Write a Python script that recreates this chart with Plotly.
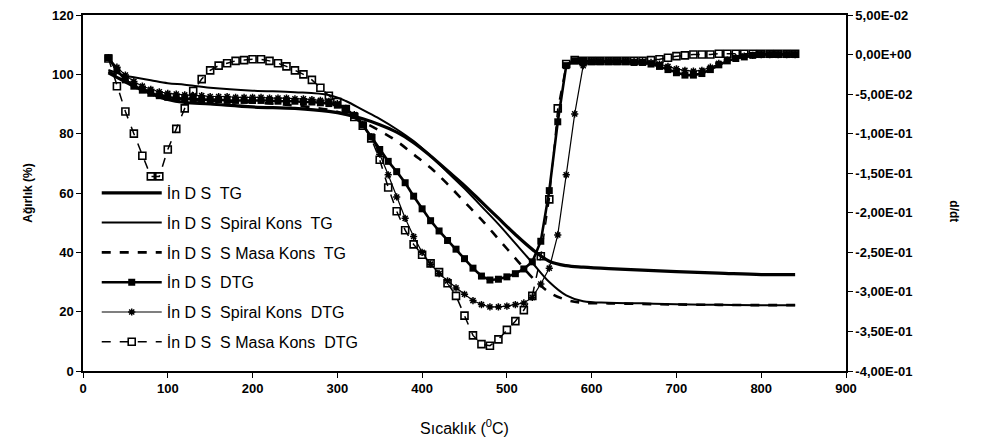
import plotly.graph_objects as go

# ---------------- data ----------------
dtg_temp = [30, 40, 50, 60, 70, 80, 90, 100, 110, 120,
            130, 140, 150, 160, 170, 180, 190, 200, 210, 220,
            230, 240, 250, 260, 270, 280, 290, 300, 310, 320,
            330, 340, 350, 360, 370, 380, 390, 400, 410, 420,
            430, 440, 450, 460, 470, 480, 490, 500, 510, 520,
            530, 540, 550, 560, 570, 580, 590, 600, 610, 620,
            630, 640, 650, 660, 670, 680, 690, 700, 710, 720,
            730, 740, 750, 760, 770, 780, 790, 800, 810, 820,
            830, 840]

dtg_inds = [-0.004, -0.020, -0.032, -0.040, -0.045, -0.049, -0.052, -0.054, -0.055, -0.056,
            -0.056, -0.057, -0.057, -0.057, -0.058, -0.058, -0.058, -0.058, -0.058, -0.058,
            -0.059, -0.059, -0.059, -0.060, -0.060, -0.061, -0.062, -0.064, -0.069, -0.077,
            -0.089, -0.104, -0.120, -0.135, -0.148, -0.162, -0.179, -0.195, -0.210, -0.223,
            -0.235, -0.246, -0.258, -0.270, -0.280, -0.285, -0.284, -0.281, -0.277, -0.271,
            -0.262, -0.236, -0.172, -0.085, -0.014, -0.008, -0.008, -0.009, -0.009, -0.009,
            -0.009, -0.009, -0.010, -0.010, -0.012, -0.015, -0.019, -0.023, -0.026, -0.026,
            -0.024, -0.019, -0.013, -0.008, -0.005, -0.003, -0.001, 0.000, 0.000, 0.000,
            0.000, 0.000]

dtg_spiral = [-0.004, -0.016, -0.026, -0.034, -0.040, -0.044, -0.047, -0.049, -0.050, -0.051,
              -0.052, -0.052, -0.053, -0.053, -0.053, -0.054, -0.054, -0.054, -0.054, -0.055,
              -0.055, -0.055, -0.056, -0.056, -0.057, -0.058, -0.059, -0.062, -0.068, -0.076,
              -0.088, -0.104, -0.126, -0.152, -0.180, -0.207, -0.230, -0.250, -0.265, -0.277,
              -0.286, -0.295, -0.303, -0.311, -0.316, -0.319, -0.319, -0.318, -0.316, -0.314,
              -0.307, -0.290, -0.270, -0.228, -0.152, -0.075, -0.014, -0.008, -0.008, -0.008,
              -0.008, -0.008, -0.009, -0.009, -0.010, -0.012, -0.015, -0.018, -0.020, -0.021,
              -0.020, -0.016, -0.011, -0.007, -0.004, -0.002, -0.001, 0.000, 0.000, 0.000,
              0.000, 0.000]

dtg_smasa = [-0.005, -0.040, -0.072, -0.100, -0.128, -0.154, -0.154, -0.120, -0.094, -0.068,
             -0.046, -0.031, -0.020, -0.014, -0.011, -0.008, -0.007, -0.006, -0.006, -0.008,
             -0.011, -0.015, -0.020, -0.025, -0.032, -0.042, -0.052, -0.060, -0.069, -0.079,
             -0.090, -0.106, -0.133, -0.168, -0.198, -0.222, -0.240, -0.253, -0.264, -0.275,
             -0.289, -0.305, -0.330, -0.355, -0.366, -0.368, -0.360, -0.348, -0.337, -0.323,
             -0.305, -0.255, -0.183, -0.068, -0.012, -0.007, -0.008, -0.008, -0.008, -0.008,
             -0.008, -0.008, -0.008, -0.008, -0.007, -0.006, -0.004, -0.002, -0.001, 0.000,
             0.000, 0.000, 0.001, 0.001, 0.001, 0.001, 0.001, 0.001, 0.001, 0.001,
             0.001, 0.001]

tg_temp = [30, 40, 50, 60, 80, 100, 120, 150, 200, 250,
           290, 310, 330, 350, 370, 390, 410, 430, 450, 470,
           490, 510, 530, 550, 570, 590, 620, 660, 700, 750,
           800, 840]

tg_inds = [100.5, 99.0, 97.5, 96.0, 93.5, 91.5, 90.5, 90.0, 89.0, 88.5,
           87.5, 86.5, 85.0, 83.0, 80.5, 77.0, 72.5, 67.5, 62.5, 57.0,
           51.5, 46.0, 41.0, 37.0, 35.5, 35.0, 34.5, 34.0, 33.5, 33.0,
           32.5, 32.5]

tg_spiral = [101.5, 100.5, 99.5, 99.0, 98.0, 97.0, 96.5, 95.5, 94.5, 94.0,
             93.0, 91.0, 88.0, 85.0, 81.5, 77.5, 72.5, 67.0, 61.5, 55.5,
             49.5, 43.0, 36.5, 30.0, 25.5, 23.5, 23.0, 22.8, 22.5, 22.3,
             22.2, 22.2]

tg_smasa = [101.0, 99.5, 98.0, 96.5, 94.0, 92.5, 91.5, 91.0, 90.5, 89.5,
            88.0, 86.5, 84.0, 81.0, 77.5, 73.0, 68.5, 63.0, 57.0, 51.0,
            44.5, 38.0, 31.5, 26.5, 24.0, 23.0, 22.8, 22.6, 22.4, 22.3,
            22.2, 22.2]

names = ["İn D S  TG", "İn D S  Spiral Kons  TG", "İn D S  S Masa Kons  TG",
         "İn D S  DTG", "İn D S  Spiral Kons  DTG", "İn D S  S Masa Kons  DTG"]

x_ticks = [0, 100, 200, 300, 400, 500, 600, 700, 800, 900]
y_ticks = [0, 20, 40, 60, 80, 100, 120]
y2_ticks = [-0.40, -0.35, -0.30, -0.25, -0.20, -0.15, -0.10, -0.05, 0.00, 0.05]
y2_labels = ["-4,00E-01", "-3,50E-01", "-3,00E-01", "-2,50E-01", "-2,00E-01",
             "-1,50E-01", "-1,00E-01", "-5,00E-02", "0,00E+00", "5,00E-02"]

# ---------------- figure ----------------
fig = go.Figure()
K = "black"

fig.add_trace(go.Scatter(x=tg_temp, y=tg_inds, name=names[0], mode="lines",
                         line=dict(color=K, width=3.2, shape="spline"), legendgroup="a"))
fig.add_trace(go.Scatter(x=tg_temp, y=tg_spiral, name=names[1], mode="lines",
                         line=dict(color=K, width=2, shape="spline"), legendgroup="b"))
fig.add_trace(go.Scatter(x=tg_temp, y=tg_smasa, name=names[2], mode="lines",
                         line=dict(color=K, width=2.6, dash="dash", shape="spline"), legendgroup="c"))

fig.add_trace(go.Scatter(x=dtg_temp, y=dtg_inds, name=names[3], mode="lines+markers", yaxis="y2",
                         line=dict(color=K, width=2.6),
                         marker=dict(symbol="square", size=7, color=K), legendgroup="d"))
fig.add_trace(go.Scatter(x=dtg_temp, y=dtg_spiral, name=names[4], mode="lines+markers", yaxis="y2",
                         line=dict(color=K, width=1.2),
                         marker=dict(symbol="asterisk-open", size=6, color=K,
                                     line=dict(color=K, width=1.5)), legendgroup="e"))
fig.add_trace(go.Scatter(x=dtg_temp, y=dtg_smasa, name=names[5], mode="lines+markers", yaxis="y2",
                         line=dict(color=K, width=1.5, dash="dash"),
                         marker=dict(symbol="square-open", size=7, color=K,
                                     line=dict(color=K, width=1.6)), legendgroup="f"))

tickfont = dict(family="Liberation Sans, Arial", size=13, color=K)

fig.update_layout(
    width=968, height=429,
    margin=dict(l=75, r=130, t=7, b=66),
    paper_bgcolor="white", plot_bgcolor="white",
    font=dict(family="Liberation Sans, Arial", color=K),
    showlegend=True,
    legend=dict(x=0.018, y=0.548, xanchor="left", yanchor="top",
                bgcolor="rgba(0,0,0,0)", borderwidth=0,
                font=dict(family="Liberation Sans Narrow, Arial Narrow, Liberation Sans", size=16, color=K),
                tracegroupgap=6, itemwidth=60, traceorder="grouped"),
    xaxis=dict(range=[0, 900], tickvals=x_ticks, ticktext=[f"<b>{v}</b>" for v in x_ticks],
               tickfont=tickfont, ticks="outside", ticklen=5, tickcolor=K,
               showline=True, linecolor=K, linewidth=1.5, mirror=True,
               showgrid=False, zeroline=False, automargin=False, ticklabeloverflow="allow",
               title=dict(text="Sıcaklık (<sup>0</sup>C)", font=dict(size=16, color=K), standoff=27)),
    yaxis=dict(range=[0, 120], tickvals=y_ticks, ticktext=[f"<b>{v}</b>" for v in y_ticks],
               tickfont=tickfont, ticks="outside", ticklen=5, tickcolor=K,
               showline=True, linecolor=K, linewidth=1.5,
               showgrid=False, zeroline=False, automargin=False, ticklabeloverflow="allow",
               title=dict(text="<b>Ağırlık (%)</b>", font=dict(size=12, color=K), standoff=17)),
    yaxis2=dict(range=[-0.4, 0.05], overlaying="y", side="right",
                tickvals=y2_ticks, ticktext=[f"<b>{t}</b>" for t in y2_labels],
                tickfont=tickfont, ticks="outside", ticklen=5, tickcolor=K,
                showline=True, linecolor=K, linewidth=1.5,
                showgrid=False, zeroline=False, automargin=False, ticklabeloverflow="allow"),
    annotations=[dict(text="<b>d/dt</b>", x=1.154, y=0.45, xref="paper", yref="paper",
                      showarrow=False, textangle=90, font=dict(size=12, color=K))],
)

fig.write_html("out.html")
